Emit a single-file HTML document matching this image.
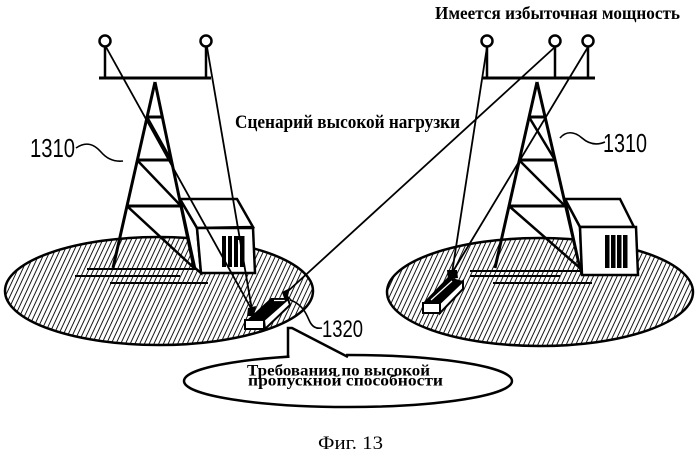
<!DOCTYPE html>
<html><head><meta charset="utf-8"><style>html,body{margin:0;padding:0;background:#fff;}svg{display:block}</style></head>
<body>
<svg width="700" height="455" viewBox="0 0 700 455" xmlns="http://www.w3.org/2000/svg">
<defs>
<pattern id="h" width="4.3" height="10" patternUnits="userSpaceOnUse" patternTransform="rotate(25)">
<line x1="1" y1="0" x2="1" y2="10" stroke="#000" stroke-width="0.9"/>
</pattern>
</defs>
<rect width="700" height="455" fill="#fff"/>

<!-- ellipses (coverage areas) -->
<ellipse cx="159" cy="291" rx="154" ry="54" fill="#fff"/>
<ellipse cx="159" cy="291" rx="154" ry="54" fill="url(#h)" stroke="#000" stroke-width="2.5"/>
<ellipse cx="540" cy="292" rx="153" ry="54" fill="#fff"/>
<ellipse cx="540" cy="292" rx="153" ry="54" fill="url(#h)" stroke="#000" stroke-width="2.5"/>

<g stroke="#000" stroke-linecap="butt" fill="none">
<!-- ground lines left -->
<line x1="87" y1="269" x2="197" y2="269" stroke-width="2"/>
<line x1="75" y1="276" x2="180" y2="276" stroke-width="2"/>
<line x1="110" y1="283" x2="208" y2="283" stroke-width="2"/>
<!-- ground lines right -->
<line x1="470" y1="271" x2="583" y2="271" stroke-width="2"/>
<line x1="470" y1="276" x2="560" y2="276" stroke-width="2"/>
<line x1="493" y1="283" x2="592" y2="283" stroke-width="2"/>

<!-- left tower -->
<circle cx="105" cy="41" r="5.5" stroke-width="2.5" fill="#fff"/>
<circle cx="206" cy="41" r="5.5" stroke-width="2.5" fill="#fff"/>
<line x1="105" y1="47" x2="105" y2="78" stroke-width="2.5"/>
<line x1="206" y1="47" x2="206" y2="78" stroke-width="2.5"/>
<line x1="99" y1="78" x2="211" y2="78" stroke-width="3"/>
<line x1="155" y1="82" x2="113" y2="268" stroke-width="3"/>
<line x1="155" y1="82" x2="194" y2="268" stroke-width="3"/>
<line x1="147" y1="117" x2="163" y2="117" stroke-width="3"/>
<line x1="137" y1="160" x2="172" y2="160" stroke-width="3"/>
<line x1="127" y1="206" x2="182" y2="206" stroke-width="3"/>
<line x1="147" y1="117" x2="171" y2="160" stroke-width="2.5"/>
<line x1="137" y1="160" x2="181" y2="206" stroke-width="2.5"/>
<line x1="127" y1="206" x2="194" y2="268" stroke-width="2.5"/>

<!-- right tower -->
<circle cx="487" cy="41" r="5.5" stroke-width="2.5" fill="#fff"/>
<circle cx="555" cy="41" r="5.5" stroke-width="2.5" fill="#fff"/>
<circle cx="588" cy="41" r="5.5" stroke-width="2.5" fill="#fff"/>
<line x1="487" y1="47" x2="487" y2="78" stroke-width="2.5"/>
<line x1="555" y1="47" x2="555" y2="78" stroke-width="2.5"/>
<line x1="588" y1="47" x2="588" y2="78" stroke-width="2.5"/>
<line x1="482" y1="78" x2="595" y2="78" stroke-width="3"/>
<line x1="537" y1="82" x2="495" y2="268" stroke-width="3"/>
<line x1="537" y1="82" x2="580" y2="268" stroke-width="3"/>
<line x1="529" y1="117" x2="545" y2="117" stroke-width="3"/>
<line x1="519" y1="160" x2="555" y2="160" stroke-width="3"/>
<line x1="509" y1="206" x2="566" y2="206" stroke-width="3"/>
<line x1="529" y1="117" x2="555" y2="160" stroke-width="2.5"/>
<line x1="519" y1="160" x2="565" y2="206" stroke-width="2.5"/>
<line x1="509" y1="206" x2="580" y2="268" stroke-width="2.5"/>
</g>

<!-- buildings -->
<g stroke="#000" stroke-width="2.5" stroke-linejoin="miter" fill="#fff">
<polygon points="180,199 197,228 201,273 195,268"/>
<polygon points="180,199 237,199 253,227 197,228"/>
<polygon points="197,228 253,228 255,273 201,273"/>
<polygon points="565,199 580,227 582,275 580,268"/>
<polygon points="565,199 620,199 634,227 580,227"/>
<polygon points="580,227 636,227 638,275 582,275"/>
</g>
<g fill="#000">
<rect x="222" y="236" width="4" height="31"/>
<rect x="228" y="236" width="4" height="31"/>
<rect x="234" y="236" width="4" height="31"/>
<rect x="240" y="236" width="4.5" height="31"/>
<rect x="234" y="236" width="10" height="4"/>
<rect x="605" y="235" width="4.5" height="33"/>
<rect x="611" y="235" width="4.5" height="33"/>
<rect x="617" y="235" width="4.5" height="33"/>
<rect x="623" y="235" width="4.5" height="33"/>
</g>

<!-- antenna beams -->
<g stroke="#000" stroke-width="1.8" fill="none">
<line x1="106" y1="47" x2="252" y2="310"/>
<line x1="207" y1="47" x2="252" y2="310"/>
<line x1="487" y1="47" x2="452" y2="273"/>
<line x1="588" y1="47" x2="452" y2="273"/>
<line x1="555" y1="47" x2="287" y2="292"/>
</g>

<!-- left device -->
<polygon points="247,320 271,298 288,298 264,320" fill="#000"/>
<line x1="274" y1="300.5" x2="285" y2="300.5" stroke="#fff" stroke-width="1.2"/>
<polygon points="264,320 288,299 290,305 265,329" fill="#fff" stroke="#000" stroke-width="2"/>
<rect x="245" y="320" width="19" height="9" fill="#fff" stroke="#000" stroke-width="2"/>
<polygon points="282,292 290,288 288,296 292,300 284,298" fill="#000"/>
<polygon points="248,308 256,306 254,316 247,316" fill="#000"/>

<!-- right device -->
<polygon points="423,303 448,277 463,281 440,303" fill="#000"/>
<line x1="431" y1="300" x2="452" y2="281" stroke="#fff" stroke-width="1.2"/>
<polygon points="440,303 463,281 463,289 440,313" fill="#fff" stroke="#000" stroke-width="2"/>
<rect x="423" y="303" width="17" height="10" fill="#fff" stroke="#000" stroke-width="2"/>
<polygon points="447,270 457,270 458,278 448,279" fill="#000"/>

<!-- leaders -->
<g stroke="#000" stroke-width="1.6" fill="none">
<path d="M76,148 C86,141 94,144 101,152 C107,159 114,162 123,161"/>
<path d="M560,138 C566,131 574,131 582,138 C590,145 598,145 605,142"/>
<path d="M290,300 C302,304 306,313 309,320 C312,327 316,329 322,328"/>
</g>

<!-- callout bubble -->
<ellipse cx="348" cy="381" rx="164" ry="26" fill="#fff" stroke="#000" stroke-width="2.5"/>
<rect x="289.5" y="350" width="56.5" height="9" fill="#fff"/>
<polyline points="288,358 288,328 292,328 348,357" fill="none" stroke="#000" stroke-width="2.5"/>

<!-- text -->
<g font-family="'Liberation Serif', 'DejaVu Serif', serif" fill="#000">
<text x="435" y="19" font-size="18" font-weight="bold" textLength="245" lengthAdjust="spacingAndGlyphs">Имеется избыточная мощность</text>
<text x="235" y="128" font-size="19" font-weight="bold" textLength="225" lengthAdjust="spacingAndGlyphs">Сценарий высокой нагрузки</text>
<text x="247" y="375.5" font-size="16" font-weight="bold" textLength="183" lengthAdjust="spacingAndGlyphs">Требования по высокой</text>
<text x="248" y="385.5" font-size="16" font-weight="bold" textLength="195" lengthAdjust="spacingAndGlyphs">пропускной способности</text>
<text x="318" y="449" font-size="19" textLength="65" lengthAdjust="spacingAndGlyphs">Фиг. 13</text>
</g>
<g font-family="'Liberation Sans', 'DejaVu Sans', sans-serif" fill="#000">
<text x="30" y="157" font-size="26" textLength="45" lengthAdjust="spacingAndGlyphs">1310</text>
<text x="603" y="152" font-size="26" textLength="44" lengthAdjust="spacingAndGlyphs">1310</text>
<text x="322" y="337" font-size="24" textLength="41" lengthAdjust="spacingAndGlyphs">1320</text>
</g>
</svg>
</body></html>
